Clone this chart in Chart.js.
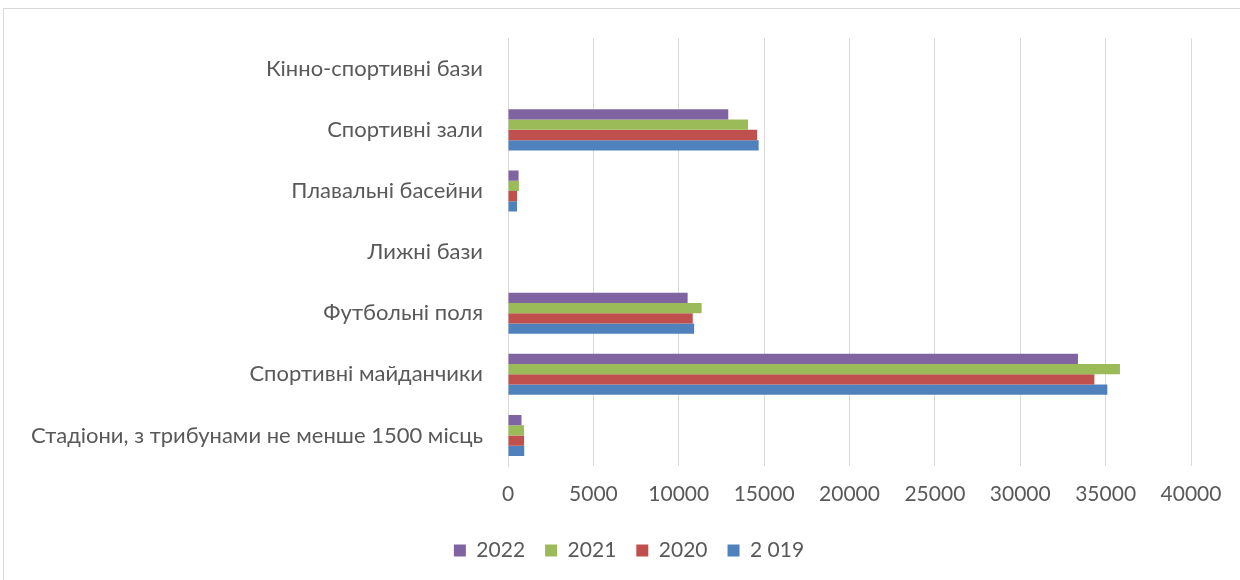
<!DOCTYPE html>
<html>
<head>
<meta charset="utf-8">
<script src="https://cdn.jsdelivr.net/npm/chart.js@4"></script>
<style>
  html, body { margin: 0; padding: 0; background: #fff; }
  #wrap { position: relative; width: 1240px; height: 580px; overflow: hidden; }
  #frame { position: absolute; left: 3px; top: 8px; width: 1260px; height: 600px; border: 1px solid #d9d9d9; }
  canvas { position: absolute; left: 0; top: 0; }
</style>
</head>
<body>
<div id="wrap">
  <div id="frame"></div>
  <canvas id="chart" width="1240" height="580"></canvas>
</div>
<script>
// categories, top to bottom as drawn
var categories = [
    'Кінно-спортивні бази',
    'Спортивні зали',
    'Плавальні басейни',
    'Лижні бази',
    'Футбольні поля',
    'Спортивні майданчики',
    'Стадіони, з трибунами не менше 1500 місць'
];
var values2022 = [0, 12900, 620, 0, 10520, 33380, 790];
var values2021 = [0, 14060, 640, 0, 11340, 35840, 940];
var values2020 = [0, 14590, 530, 0, 10820, 34340, 940];
var values2019 = [0, 14680, 530, 0, 10900, 35100, 950];
var xTicks = [0, 5000, 10000, 15000, 20000, 25000, 30000, 35000, 40000];

var textColor = '#595959';
var fontFamily = 'Lato, "Open Sans", sans-serif';
var leftPad = 18;

function makeSet(label, data, color) {
    return {
        label: label,
        data: data,
        backgroundColor: color,
        borderColor: color,
        borderWidth: 0,
        barPercentage: 1,
        categoryPercentage: 0.672
    };
}

var ctx = document.getElementById('chart');
new Chart(ctx, {
    type: 'bar',
    data: {
        labels: categories,
        datasets: [
            makeSet('2022', values2022, '#8064A2'),
            makeSet('2021', values2021, '#9BBB59'),
            makeSet('2020', values2020, '#C0504D'),
            makeSet('2 019', values2019, '#4F81BD')
        ]
    },
    options: {
        indexAxis: 'y',
        responsive: false,
        animation: false,
        layout: {
            padding: { top: 37, left: leftPad, right: 0, bottom: 9 }
        },
        plugins: {
            tooltip: { enabled: false },
            legend: {
                position: 'bottom',
                labels: {
                    boxWidth: 12,
                    boxHeight: 12,
                    padding: 20,
                    color: textColor,
                    font: { family: fontFamily, size: 21 }
                }
            }
        },
        scales: {
            x: {
                min: 0,
                max: 40000,
                afterBuildTicks: function (scale) {
                    scale.ticks = xTicks.map(function (v) { return { value: v }; });
                },
                afterFit: function (scale) { scale.height = 54; },
                grid: { color: '#d9d9d9', drawTicks: false },
                border: { display: false },
                ticks: {
                    padding: 16,
                    color: textColor,
                    font: { family: fontFamily, size: 21 },
                    callback: function (v) { return String(v); }
                }
            },
            y: {
                afterFit: function (scale) { scale.width = 508 - leftPad; },
                grid: { display: false, drawTicks: false },
                border: { color: '#d9d9d9' },
                ticks: {
                    padding: 25,
                    color: textColor,
                    font: { family: fontFamily, size: 22 }
                }
            },
            // empty right-hand spacer so the plot stops at 40000
            yRight: {
                type: 'linear',
                position: 'right',
                afterFit: function (scale) { scale.width = 49; },
                grid: { display: false, drawTicks: false },
                border: { display: false },
                ticks: { display: false }
            }
        }
    }
});
</script>
</body>
</html>
